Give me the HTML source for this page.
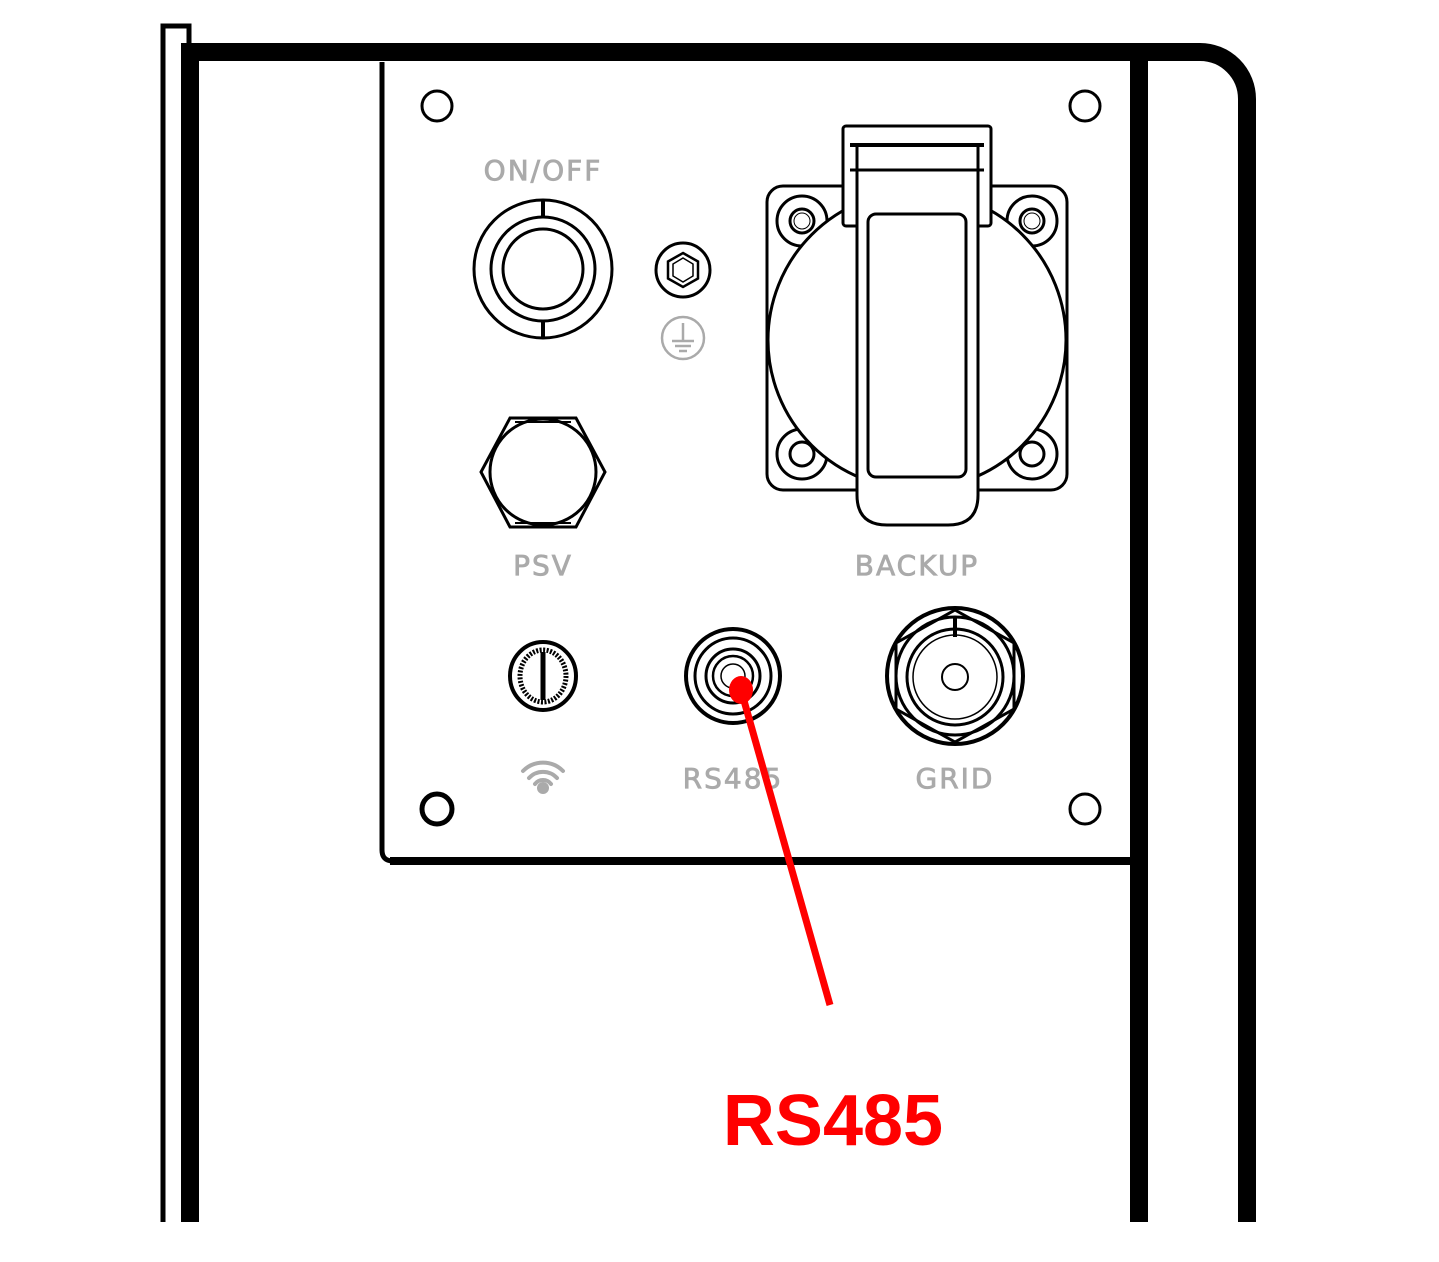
<!DOCTYPE html>
<html><head><style>html,body{margin:0;padding:0;background:#fff;}svg{display:block}</style></head>
<body>
<svg width="1439" height="1262" viewBox="0 0 1439 1262" xmlns="http://www.w3.org/2000/svg">
<g fill="none" stroke="#000">
<path d="M163 1222 V26 H189 V45" stroke-width="5"/>
<line x1="190" y1="43" x2="190" y2="1222" stroke-width="18"/>
<path d="M181 52 H1200 A47 47 0 0 1 1247 99 V1222" stroke-width="18"/>
<line x1="1139" y1="52" x2="1139" y2="1222" stroke-width="18"/>
<path d="M382 62 V850 Q382 861 393 861 H1130" stroke-width="5"/>
<line x1="390" y1="861" x2="1130" y2="861" stroke-width="8"/>
<circle cx="437" cy="106" r="15" stroke-width="3"/>
<circle cx="1085" cy="106" r="15" stroke-width="3"/>
<circle cx="437" cy="809" r="15" stroke-width="5"/>
<circle cx="1085" cy="809" r="15" stroke-width="3"/>
<circle cx="543" cy="269" r="69" stroke-width="3"/>
<circle cx="543" cy="269" r="52" stroke-width="3"/>
<circle cx="543" cy="269" r="40" stroke-width="3"/>
<line x1="543" y1="200" x2="543" y2="217" stroke-width="4"/>
<line x1="543" y1="321" x2="543" y2="338" stroke-width="4"/>
<circle cx="683" cy="270" r="27" stroke-width="3"/>
<polygon points="683,253 698,261.5 698,278.5 683,287 668,278.5 668,261.5" stroke-width="2.5"/>
<polygon points="683,258 693,264 693,276 683,282 673,276 673,264" stroke-width="1.5"/>
<polygon points="510,418 576,418 605,472 576,527 510,527 481,472" stroke-width="3"/>
<circle cx="543" cy="472" r="53" stroke-width="3"/>
<line x1="515" y1="422" x2="571" y2="422" stroke-width="2"/>
<line x1="515" y1="523" x2="571" y2="523" stroke-width="2"/>
<!-- BACKUP socket -->
<rect x="767" y="186" width="300" height="304" rx="16" stroke-width="3"/>
<g stroke-width="3">
<circle cx="802" cy="221" r="25"/><circle cx="802" cy="221" r="12"/><circle cx="802" cy="221" r="8" stroke-width="1"/>
<circle cx="1032" cy="221" r="25"/><circle cx="1032" cy="221" r="12"/><circle cx="1032" cy="221" r="8" stroke-width="1"/>
<circle cx="802" cy="454" r="25"/><circle cx="802" cy="454" r="12"/>
<circle cx="1032" cy="454" r="25"/><circle cx="1032" cy="454" r="12"/>
</g>
<circle cx="917" cy="340" r="149" stroke-width="3" fill="#fff"/>
<rect x="843" y="126" width="148" height="100" rx="3" stroke-width="3" fill="#fff"/>
<line x1="850" y1="145" x2="984" y2="145" stroke-width="4"/>
<line x1="850" y1="170" x2="984" y2="170" stroke-width="3"/>
<path d="M857 145 V495 Q857 525 887 525 H948 Q978 525 978 495 V145" stroke-width="3" fill="#fff"/>
<line x1="850" y1="145" x2="984" y2="145" stroke-width="4"/>
<line x1="857" y1="170" x2="978" y2="170" stroke-width="3"/>
<rect x="868" y="214" width="98" height="263" rx="8" stroke-width="3"/>
<ellipse cx="543" cy="676" rx="33" ry="34" stroke-width="4"/>
<ellipse cx="543" cy="676" rx="23" ry="26" stroke-width="5" stroke-dasharray="2 1.5"/>
<line x1="543" y1="652" x2="543" y2="700" stroke-width="5"/>
<circle cx="733" cy="676" r="47" stroke-width="4"/>
<circle cx="733" cy="676" r="38" stroke-width="3"/>
<circle cx="733" cy="676" r="27" stroke-width="3"/>
<circle cx="733" cy="676" r="20" stroke-width="2.5"/>
<circle cx="733" cy="676" r="12" stroke-width="1.5"/>
<ellipse cx="955" cy="676" rx="68" ry="68" stroke-width="4"/>
<polygon points="955,610 1014,643 1014,709 955,742 896,709 896,643" stroke-width="3"/>
<circle cx="955" cy="676" r="59" stroke-width="3"/>
<circle cx="955" cy="677" r="48" stroke-width="3"/>
<circle cx="955" cy="677" r="42" stroke-width="1.5"/>
<circle cx="955" cy="677" r="13" stroke-width="2"/>
<line x1="955" y1="617" x2="955" y2="637" stroke-width="4"/>
</g>
<g fill="none" stroke="#aaa" stroke-width="2.5">
<circle cx="683" cy="338" r="21"/>
<line x1="683" y1="323" x2="683" y2="340"/>
<line x1="672" y1="341" x2="694" y2="341"/>
<line x1="675" y1="346" x2="691" y2="346"/>
<line x1="679" y1="351" x2="687" y2="351"/>
</g>
<g fill="none" stroke="#aaa" stroke-width="4" stroke-linecap="round">
<path d="M523 771 A28 28 0 0 1 563 771"/>
<path d="M529 778 A19 19 0 0 1 557 778"/>
<path d="M535 784 A10 10 0 0 1 551 784"/>
</g>
<circle cx="543" cy="788" r="6" fill="#aaa"/>
<g font-family="'DejaVu Sans','Liberation Sans',sans-serif" fill="#aaa" stroke="#aaa" stroke-width="0.8" font-size="28" text-anchor="middle" letter-spacing="2">
<text x="543" y="180">ON/OFF</text>
<text x="543" y="575">PSV</text>
<text x="917" y="575">BACKUP</text>
<text x="733" y="788">RS485</text>
<text x="955" y="788">GRID</text>
</g>
<line x1="741" y1="690" x2="830" y2="1005" stroke="#f00" stroke-width="7"/>
<ellipse cx="741" cy="690" rx="12" ry="14" fill="#f00"/>
<text x="833" y="1145" text-anchor="middle" font-family="'Liberation Sans',sans-serif" font-weight="bold" font-size="72" fill="#f00">RS485</text>
</svg>
</body></html>
